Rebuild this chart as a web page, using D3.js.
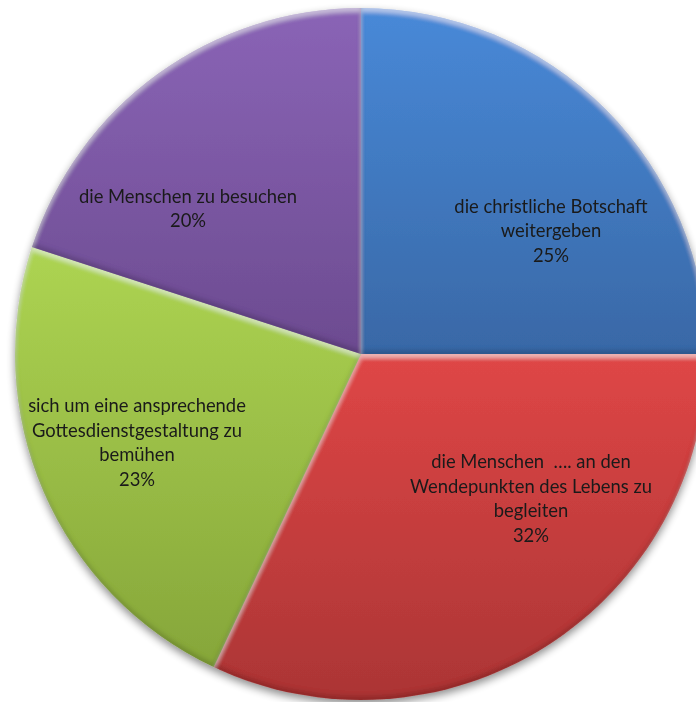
<!DOCTYPE html>
<html>
<head>
<meta charset="utf-8">
<script src="https://cdn.jsdelivr.net/npm/d3@7"></script>
<style>
  html, body { margin: 0; padding: 0; background: #fff; }
  svg { display: block; }
</style>
</head>
<body>
<svg id="chart" width="696" height="702"></svg>
<script>
// Slice data, clockwise from 12 o'clock
const labels = [
  ["die christliche Botschaft", "weitergeben"],
  ["die Menschen  …. an den", "Wendepunkten des Lebens zu", "begleiten"],
  ["sich um eine ansprechende", "Gottesdienstgestaltung zu", "bemühen"],
  ["die Menschen zu besuchen"]
];
const values = [25, 32, 23, 20];
const percentLabels = ["25%", "32%", "23%", "20%"];
const topColors = ["#4889d8", "#df4646", "#add452", "#8a64b6"];
const bottomColors = ["#3968a6", "#ab3535", "#86a63a", "#6c4b90"];
// label block centre relative to the pie centre
const labelAnchors = [
  { dx: 190, dy: -122 },
  { dx: 170, dy: 146 },
  { dx: -224, dy: 90 },
  { dx: -173, dy: -144 }
];

const svg = d3.select("#chart");
const cx = 361, cy = 354, r = 346;

const defs = svg.append("defs");

// vertical shading for each slice, spanning its own bounding box
values.forEach((v, i) => {
  const g = defs.append("linearGradient")
    .attr("id", "grad" + i)
    .attr("x1", 0).attr("y1", 0)
    .attr("x2", 0).attr("y2", 1);
  g.append("stop").attr("offset", "0%").attr("stop-color", topColors[i]);
  g.append("stop").attr("offset", "100%").attr("stop-color", bottomColors[i]);
});

// soft drop shadow under the whole pie
const sh = defs.append("filter").attr("id", "shadow")
  .attr("x", "-10%").attr("y", "-10%").attr("width", "120%").attr("height", "120%");
sh.append("feGaussianBlur").attr("in", "SourceAlpha").attr("stdDeviation", 4).attr("result", "b");
sh.append("feOffset").attr("in", "b").attr("dx", 0).attr("dy", 4).attr("result", "o");
sh.append("feComponentTransfer").attr("in", "o").attr("result", "o2")
  .append("feFuncA").attr("type", "linear").attr("slope", 0.45);
const shm = sh.append("feMerge");
shm.append("feMergeNode").attr("in", "o2");
shm.append("feMergeNode").attr("in", "SourceGraphic");

// soft inner bevel on each slice: light on upper edges, dark on lower edges
const bv = defs.append("filter").attr("id", "bevel")
  .attr("x", "-5%").attr("y", "-5%").attr("width", "110%").attr("height", "110%");
bv.append("feGaussianBlur").attr("in", "SourceAlpha").attr("stdDeviation", 2.2).attr("result", "blur");
bv.append("feOffset").attr("in", "blur").attr("dx", 0).attr("dy", 4).attr("result", "down");
bv.append("feComposite").attr("in", "SourceAlpha").attr("in2", "down").attr("operator", "out").attr("result", "hiMask");
bv.append("feFlood").attr("flood-color", "#ffffff").attr("flood-opacity", 0.42).attr("result", "white");
bv.append("feComposite").attr("in", "white").attr("in2", "hiMask").attr("operator", "in").attr("result", "hi");
bv.append("feOffset").attr("in", "blur").attr("dx", 0).attr("dy", -4).attr("result", "up");
bv.append("feComposite").attr("in", "SourceAlpha").attr("in2", "up").attr("operator", "out").attr("result", "loMask");
bv.append("feFlood").attr("flood-color", "#000000").attr("flood-opacity", 0.3).attr("result", "black");
bv.append("feComposite").attr("in", "black").attr("in2", "loMask").attr("operator", "in").attr("result", "lo");
const bvm = bv.append("feMerge");
bvm.append("feMergeNode").attr("in", "SourceGraphic");
bvm.append("feMergeNode").attr("in", "hi");
bvm.append("feMergeNode").attr("in", "lo");

const pie = d3.pie().sort(null).value(d => d);
const arcs = pie(values);
const arc = d3.arc().innerRadius(0).outerRadius(r);

const root = svg.append("g").attr("transform", `translate(${cx},${cy})`);
const slicesG = root.append("g").attr("filter", "url(#shadow)");

slicesG.selectAll("path.slice")
  .data(arcs)
  .join("path")
  .attr("class", "slice")
  .attr("d", arc)
  .attr("fill", (d, i) => `url(#grad${i})`)
  .attr("filter", "url(#bevel)");

// labels
const lineH = 24.5;
const labelG = root.append("g")
  .attr("font-family", "Lato, 'Open Sans', sans-serif")
  .attr("font-size", 18.4)
  .attr("fill", "#1a1a1a")
  .attr("text-anchor", "middle");

arcs.forEach((a, i) => {
  const lines = labels[i].concat([percentLabels[i]]);
  const anchor = labelAnchors[i];
  const t = labelG.append("text")
    .attr("x", anchor.dx)
    .attr("y", anchor.dy - (lines.length - 1) * lineH / 2)
    .attr("dominant-baseline", "middle");
  lines.forEach((ln, k) => {
    t.append("tspan")
      .attr("x", anchor.dx)
      .attr("dy", k === 0 ? 0 : lineH)
      .attr("xml:space", "preserve")
      .text(ln);
  });
});
</script>
</body>
</html>
